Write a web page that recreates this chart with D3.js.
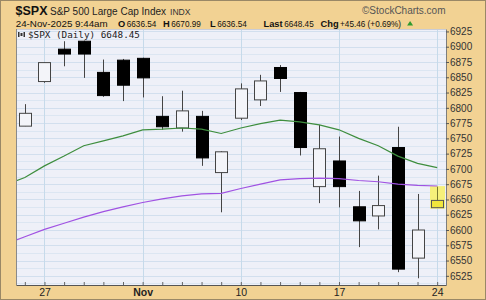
<!DOCTYPE html>
<html><head><meta charset="utf-8">
<script src="https://cdn.jsdelivr.net/npm/d3@7"></script>
<style>
body{margin:0;background:#fff}
svg{display:block}
text{font-family:"Liberation Sans",Arial,sans-serif}
</style>
</head><body>
<svg id="c" width="486" height="300"></svg>
<script>
// ---- data ----
const dates = ["2025-10-23","2025-10-24","2025-10-27","2025-10-28","2025-10-29","2025-10-30","2025-10-31",
  "2025-11-03","2025-11-04","2025-11-05","2025-11-06","2025-11-07","2025-11-10","2025-11-11","2025-11-12",
  "2025-11-13","2025-11-14","2025-11-17","2025-11-18","2025-11-19","2025-11-20","2025-11-21","2025-11-24"];
const opens  = [null,6770,6843,6896,6909,6858,6878,6881,6786,6767,6786,6694,6783,6813,6866,6825,6671,6713,6638,6623,6735,6554,6636.54];
const highs  = [null,6806,6874,6909,6910,6879,6880,6882,6819,6828,6795,6729,6840,6854,6870,6826,6772,6753,6664,6689,6769,6659,6670.99];
const lows   = [null,6770,6841,6868,6849,6818,6811,6817,6764,6761,6705,6629,6780,6803,6826,6722,6644,6637,6572,6601,6531,6521,6636.54];
const closes = [null,6791,6874,6888,6888,6820,6837,6849,6769,6795,6718,6728,6831,6844,6848,6735,6733,6671,6615,6640,6536,6600,6648.45];
const maShort = [6674,6686,6705,6721,6738,6746,6754,6764,6765,6767,6765,6758,6767,6774,6780,6777,6772,6764,6750,6738,6721,6709,6702];
const maLong  = [6577,6589,6601,6611,6621,6630,6638,6645,6651,6656,6659,6660,6668,6675,6682,6684,6685,6684,6681,6679,6675,6673,6672];
const xTickDates  = ["2025-10-27","2025-11-03","2025-11-10","2025-11-17","2025-11-24"];
const xTickLabels = ["27","Nov","10","17","24"];
const yTicks = [6525,6550,6575,6600,6625,6650,6675,6700,6725,6750,6775,6800,6825,6850,6875,6900,6925];

// ---- layout ----
const W = 486, H = 300;
const P = {l:16, r:446, t:29, b:285};
const x = d3.scaleLinear().domain([0.55, dates.length - 0.55]).range([P.l, P.r]);
const y = d3.scaleLinear().domain([6510, 6929]).range([P.b, P.t]);
const idx = d => dates.indexOf(d);

const svg = d3.select("#c");
svg.append("rect").attr("width", W).attr("height", H).attr("fill", "#F2D293");
svg.append("rect").attr("x", 0.5).attr("y", 0.5).attr("width", W-1).attr("height", H-1)
  .attr("fill", "none").attr("stroke", "#9a8866");

svg.append("defs").append("clipPath").attr("id","pc").append("rect")
  .attr("x", P.l).attr("y", P.t).attr("width", P.r-P.l).attr("height", P.b-P.t);

svg.append("rect").attr("x", P.l).attr("y", P.t).attr("width", P.r-P.l).attr("height", P.b-P.t)
  .attr("fill", "#EEF0F8");

// grid
const grid = svg.append("g").attr("clip-path","url(#pc)");
d3.range(6512.5, 6930, 12.5).forEach(v => {
  const yy = Math.round(y(v)) + 0.5;
  grid.append("line").attr("x1", P.l).attr("x2", P.r).attr("y1", yy).attr("y2", yy)
    .attr("stroke", (v % 25 === 0) ? "#D2DFEE" : "#DCE6F2").attr("stroke-width", 1);
});
xTickDates.forEach(d => {
  const xx = Math.round(x(idx(d))) + 0.5;
  grid.append("line").attr("x1", xx).attr("x2", xx).attr("y1", P.t).attr("y2", P.b)
    .attr("stroke", "#C6DAEA").attr("stroke-width", 1);
});

// legend
const lg = svg.append("g");
lg.append("rect").attr("x",18).attr("y",32).attr("width",1.5).attr("height",5).attr("fill","#333");
lg.append("rect").attr("x",20.5).attr("y",33).attr("width",2).attr("height",3).attr("fill","#333");
lg.append("rect").attr("x",23.5).attr("y",32).attr("width",1.5).attr("height",5).attr("fill","#333");
lg.append("text").attr("x", 28).attr("y", 37.5)
  .style("font-family", "'DejaVu Sans Mono',monospace").style("font-size", "9.3px").attr("fill", "#222")
  .text("$SPX (Daily) " + d3.format(".2f")(closes[closes.length-1]));

// candles
const cg = svg.append("g").attr("clip-path","url(#pc)");
const bw = 12;
dates.forEach((d, i) => {
  if (opens[i] == null) return;
  const cx = Math.round(x(i)) + 0.5;
  const o = opens[i], c = closes[i], h = highs[i], l = lows[i];
  const last = i === dates.length - 1;
  const up = c >= o;
  if (last) {
    cg.append("rect").attr("x", cx - 7.5).attr("y", y(h) - 0.5).attr("width", 15)
      .attr("height", y(l) - y(h) + 1.5).attr("fill", "#F6F07A");
  }
  cg.append("line").attr("x1", cx).attr("x2", cx).attr("y1", y(h)).attr("y2", y(l))
    .attr("stroke", last ? "#7a7a30" : "#444").attr("stroke-width", 1);
  const top = y(Math.max(o, c)), bot = y(Math.min(o, c));
  const bx = cx - bw/2;
  cg.append("rect").attr("x", bx).attr("y", top).attr("width", bw).attr("height", Math.max(1, bot - top))
    .attr("fill", last ? "#F1E63C" : (up ? "#F3F4F9" : "#000"))
    .attr("stroke", last ? "#555" : (up ? "#444" : "#000")).attr("stroke-width", 1);
});

// moving averages
const line = d3.line().x((v, i) => x(i)).y(v => y(v));
cg.append("path").attr("d", line(maShort)).attr("fill","none").attr("stroke","#3E8E3E").attr("stroke-width",1.2);
cg.append("path").attr("d", line(maLong)).attr("fill","none").attr("stroke","#A052E2").attr("stroke-width",1.2);

// plot frame
svg.append("line").attr("x1",P.l).attr("x2",P.r).attr("y1",P.t+0.5).attr("y2",P.t+0.5).attr("stroke","#C9CCD6");
svg.append("line").attr("x1",P.l+0.5).attr("x2",P.l+0.5).attr("y1",P.t).attr("y2",P.b).attr("stroke","#8a8a8a");

// x axis
const xa = svg.append("g").attr("transform", `translate(0,${P.b})`)
  .call(d3.axisBottom(x).tickValues(d3.range(1, dates.length)).tickSize(-3).tickSizeOuter(0).tickFormat(""));
xa.select(".domain").attr("stroke", "#555");
xa.selectAll(".tick line").attr("stroke", "#666");
const xl = svg.append("g").attr("transform", `translate(0,${P.b})`)
  .call(d3.axisBottom(x).tickValues(xTickDates.map(idx)).tickSize(0).tickPadding(4)
    .tickFormat(v => xTickLabels[xTickDates.map(idx).indexOf(v)]));
xl.select(".domain").remove();
xl.selectAll("text").style("font-family","'Liberation Sans',Arial,sans-serif").style("font-size","10.5px")
  .attr("fill","#222").style("font-weight", (v) => xTickLabels[xTickDates.map(idx).indexOf(v)] === "Nov" ? "bold" : "normal");

// y axis (right)
const ya = svg.append("g").attr("transform", `translate(${P.r},0)`)
  .call(d3.axisRight(y).tickValues(yTicks).tickSize(3).tickSizeOuter(0).tickPadding(1).tickFormat(d3.format("d")));
ya.select(".domain").attr("stroke", "#7d7d7d");
ya.selectAll(".tick line").attr("stroke", "#555");
ya.selectAll("text").style("font-family","'Liberation Sans',Arial,sans-serif").style("font-size","10px").attr("fill","#333");

// header
const hd = svg.append("g");
hd.append("text").attr("x", 15.5).attr("y", 14.5).style("font-size","12.5px").style("font-weight","bold").attr("fill","#111").text("$SPX");
hd.append("text").attr("x", 50).attr("y", 14.5).style("font-size","10px").attr("fill","#222").text("S&P 500 Large Cap Index");
hd.append("text").attr("x", 170).attr("y", 14.5).style("font-size","8.6px").attr("fill","#333").text("INDX");
hd.append("text").attr("x", 362).attr("y", 13.5).style("font-size","10px").attr("fill","#555").text("\u00A9StockCharts.com");
hd.append("text").attr("x", 15.7).attr("y", 26.5).style("font-size","9.8px").attr("fill","#111").text("24-Nov-2025 9:44am");
const l2 = [
  {x:118, k:"O", v:"6636.54"},
  {x:163, k:"H", v:"6670.99"},
  {x:210, k:"L", v:"6636.54"},
  {x:263.5, k:"Last", v:"6648.45"},
  {x:320.5, k:"Chg", v:"+45.46 (+0.69%)"}
];
let endX = 0;
l2.forEach(e => {
  const k = hd.append("text").attr("x", e.x).attr("y", 26.5).style("font-size", "9.3px")
    .style("font-weight", "bold").attr("fill", "#111").text(e.k);
  const kx = e.x + k.node().getComputedTextLength() + 1.5;
  const v = hd.append("text").attr("x", kx).attr("y", 26.5).style("font-size", "8.2px")
    .attr("fill", "#111").text(e.v);
  endX = kx + v.node().getComputedTextLength();
});
hd.append("path").attr("d", `M${endX+6},25.5 L${endX+9},21 L${endX+12},25.5 Z`).attr("fill","#2E9A2E");
</script>
</body></html>
